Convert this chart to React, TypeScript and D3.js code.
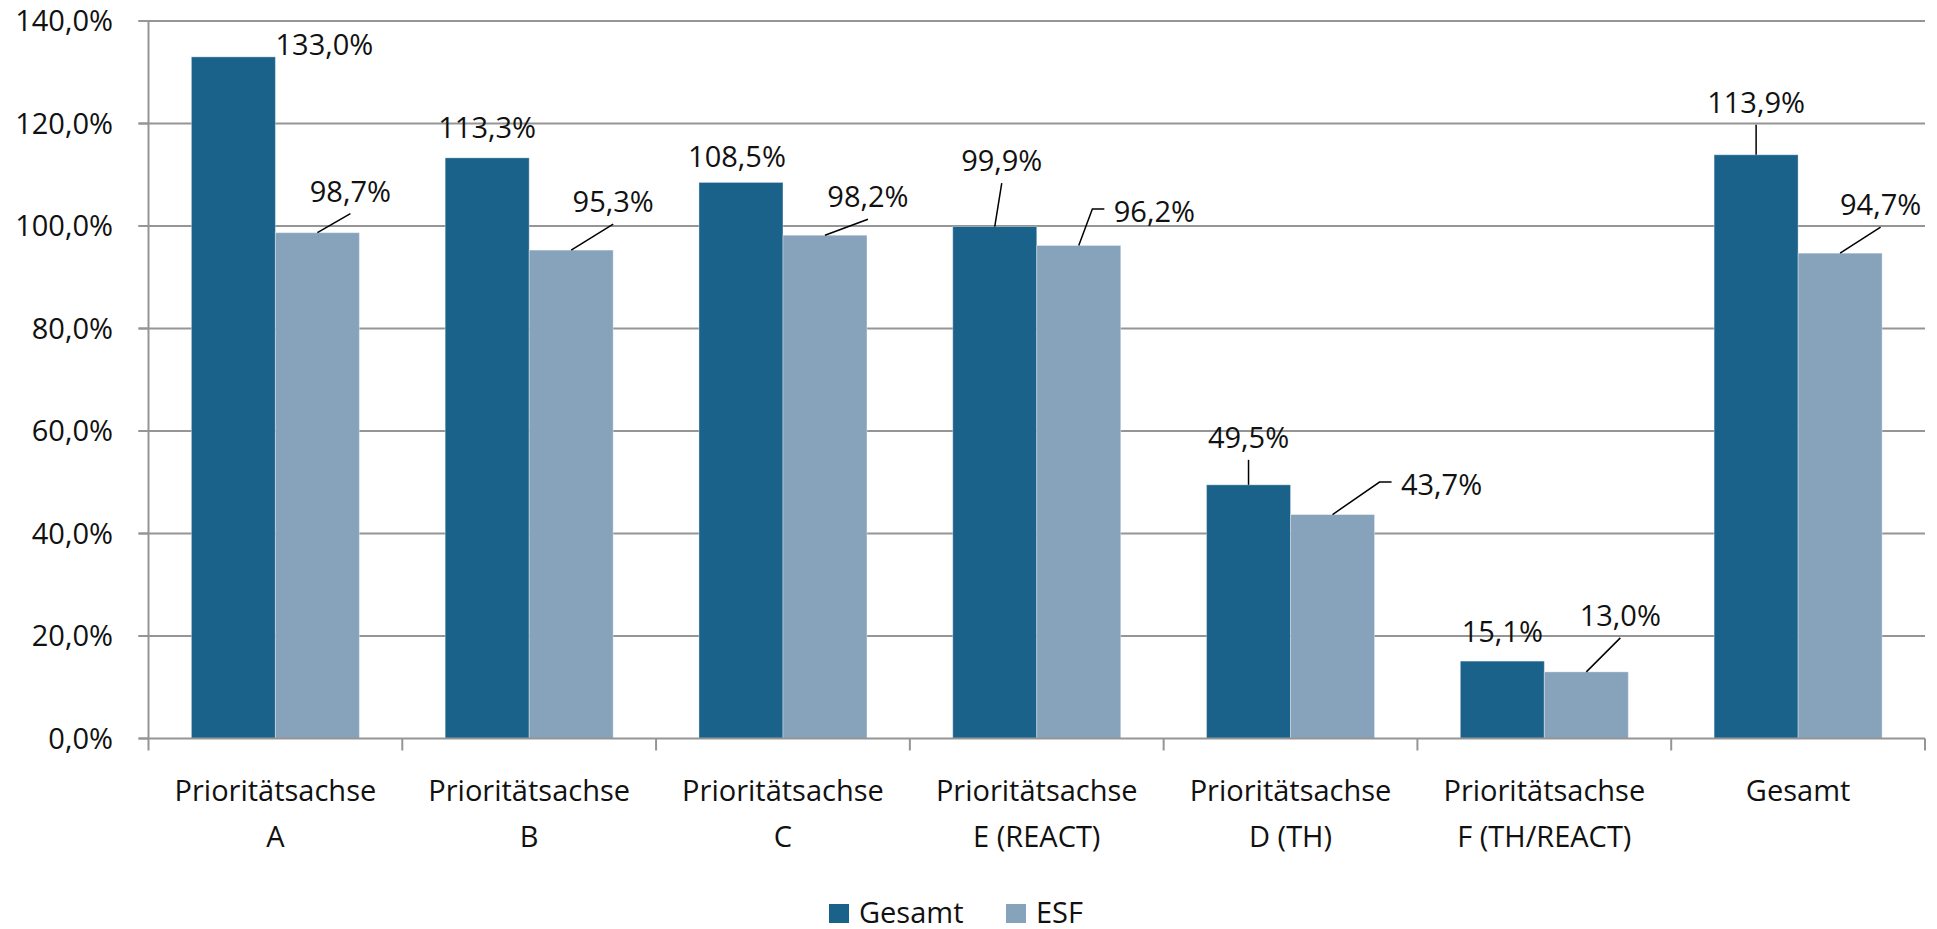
import React, { useEffect } from "react";
import * as d3 from "d3";

const categories: string[][] = [
  ["Prioritätsachse", "A"],
  ["Prioritätsachse", "B"],
  ["Prioritätsachse", "C"],
  ["Prioritätsachse", "E (REACT)"],
  ["Prioritätsachse", "D (TH)"],
  ["Prioritätsachse", "F (TH/REACT)"],
  ["Gesamt"],
];
const seriesNames = ["Gesamt", "ESF"];
const gesamtValues = [133.0, 113.3, 108.5, 99.9, 49.5, 15.1, 113.9];
const esfValues = [98.7, 95.3, 98.2, 96.2, 43.7, 13.0, 94.7];
const yTicks = [0, 20, 40, 60, 80, 100, 120, 140];

// label placement (layout only): offset of text centre / baseline from bar top centre
type Lay = { dx: number; dy: number; leader: "none" | "line" | "elbow" };
const gesamtLabelLayout: Lay[] = [
  { dx: 91, dy: -2, leader: "none" },
  { dx: 0, dy: -20, leader: "none" },
  { dx: -4, dy: -15.5, leader: "none" },
  { dx: 7, dy: -55.5, leader: "line" },
  { dx: 0, dy: -37, leader: "line" },
  { dx: 0, dy: -19, leader: "none" },
  { dx: 0, dy: -42, leader: "line" },
];
const esfLabelLayout: Lay[] = [
  { dx: 33, dy: -31, leader: "line" },
  { dx: 42, dy: -38, leader: "line" },
  { dx: 43, dy: -28, leader: "line" },
  { dx: 75.6, dy: -23.5, leader: "elbow" },
  { dx: 109, dy: -19.5, leader: "elbow" },
  { dx: 34, dy: -46, leader: "line" },
  { dx: 40.5, dy: -38, leader: "line" },
];

const colors = ["#1B628A", "#87A3BC"];
const FONT = "'Open Sans', 'Noto Sans', sans-serif";
const FS = 29;
const TEXT = "#111";
const GRID = "#959595";

const fmt = (v: number) => v.toFixed(1).replace(".", ",") + "%";

export default function App() {
  useEffect(() => {
    document.body.style.margin = "0";
    document.body.style.overflow = "hidden";
  }, []);

  const W = 1937;
  const H = 929;
  const x0 = 148.5;
  const x1 = 1925;
  const yBase = 738.5;
  const yTop = 21;

  const idx = categories.map((_, i) => String(i));
  const x = d3.scaleBand<string>().domain(idx).range([x0, x1]).paddingInner(0.338).paddingOuter(0.169);
  const xs = d3.scaleBand<string>().domain(seriesNames).range([0, x.bandwidth()]);
  const step = x.step();
  const y = d3.scaleLinear().domain([0, 140]).range([yBase, yTop]);

  const series = [
    { name: "Gesamt", values: gesamtValues, layout: gesamtLabelLayout },
    { name: "ESF", values: esfValues, layout: esfLabelLayout },
  ];

  const boundaries = d3.range(categories.length + 1).map((i) => x0 + i * step);

  return (
    <svg width={W} height={H} style={{ position: "absolute", left: 0, top: 0, display: "block", background: "#fff" }}>
      {/* grid lines */}
      {yTicks.map((t) => (
        <g key={t}>
          {t > 0 && <line x1={x0 - 10} x2={x1} y1={y(t)} y2={y(t)} stroke={GRID} strokeWidth={2} />}
          <text x={113} y={y(t)} dy="0.36em" textAnchor="end" fontFamily={FONT} fontSize={FS} fill={TEXT}>
            {fmt(t)}
          </text>
        </g>
      ))}
      {/* bars */}
      {series.map((s, si) =>
        s.values.map((v, i) => (
          <rect
            key={s.name + i}
            x={(x(String(i)) as number) + (xs(s.name) as number)}
            y={y(v)}
            width={xs.bandwidth()}
            height={yBase - y(v)}
            fill={colors[si]}
            stroke="#ffffff"
            strokeOpacity={0.35}
            strokeWidth={1}
          />
        ))
      )}
      {/* axes */}
      <line x1={x0} x2={x0} y1={yTop} y2={yBase} stroke={GRID} strokeWidth={2} />
      {yTicks.map((t) => (
        <line key={"yt" + t} x1={x0 - 10} x2={x0} y1={y(t)} y2={y(t)} stroke={GRID} strokeWidth={2} />
      ))}
      <line x1={x0 - 10} x2={x1} y1={yBase} y2={yBase} stroke={GRID} strokeWidth={2} />
      {boundaries.map((bx, i) => (
        <line key={"xt" + i} x1={bx} x2={bx} y1={yBase} y2={yBase + 12} stroke={GRID} strokeWidth={2} />
      ))}
      {/* category labels */}
      {categories.map((lines, i) => (
        <text
          key={"cat" + i}
          x={(x(String(i)) as number) + x.bandwidth() / 2}
          y={801}
          textAnchor="middle"
          fontFamily={FONT}
          fontSize={FS}
          fill={TEXT}
        >
          {lines.map((l, li) => (
            <tspan key={li} x={(x(String(i)) as number) + x.bandwidth() / 2} dy={li === 0 ? 0 : 45.5}>
              {l}
            </tspan>
          ))}
        </text>
      ))}
      {/* data labels */}
      {series.map((s) =>
        s.values.map((v, i) => {
          const lay = s.layout[i];
          const bx = (x(String(i)) as number) + (xs(s.name) as number) + xs.bandwidth() / 2;
          const by = y(v);
          const tx = bx + lay.dx;
          const ty = by + lay.dy;
          let leader: React.ReactNode = null;
          if (lay.leader === "line") {
            leader = <line x1={bx} y1={by} x2={tx} y2={ty + 12} stroke="#000" strokeWidth={1.5} />;
          } else if (lay.leader === "elbow") {
            const ex = tx - 50;
            const ey = ty - 13;
            leader = (
              <polyline
                points={`${bx},${by} ${ex - 12},${ey} ${ex},${ey}`}
                fill="none"
                stroke="#000"
                strokeWidth={1.5}
              />
            );
          }
          return (
            <g key={"lbl" + s.name + i}>
              {leader}
              <text x={tx} y={ty} textAnchor="middle" fontFamily={FONT} fontSize={FS} fill={TEXT}>
                {fmt(v)}
              </text>
            </g>
          );
        })
      )}
      {/* legend */}
      {seriesNames.map((n, i) => {
        const lx = i === 0 ? 829 : 1006;
        return (
          <g key={"leg" + n}>
            <rect x={lx} y={904} width={20} height={19} fill={colors[i]} />
            <text x={lx + 30} y={922.5} fontFamily={FONT} fontSize={FS} fill={TEXT}>
              {n}
            </text>
          </g>
        );
      })}
    </svg>
  );
}
